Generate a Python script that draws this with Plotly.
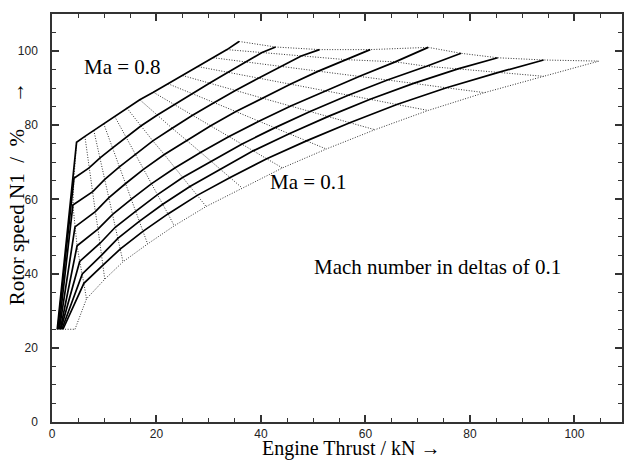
import plotly.graph_objects as go

# Carpet grid: one list per Mach line (solid), nodes = throttle steps (dotted cross lines)
mach_labels = ["0.8", "0.7", "0.6", "0.5", "0.4", "0.3", "0.2", "0.1", "0.0"]

thrust_ma08 = [1.0, 4.7, 6.3, 8.0, 9.9, 12.0, 14.3, 16.8, 19.4, 22.2, 25.0, 28.0, 30.9, 33.5, 35.8]
n1_ma08 = [25, 75.4, 77.0, 78.6, 80.4, 82.4, 84.7, 86.9, 88.9, 91.2, 93.4, 95.8, 98.2, 100.4, 102.6]

thrust_ma07 = [1.1, 4.2, 7.1, 9.2, 11.6, 14.2, 17.0, 20.1, 23.4, 26.8, 30.2, 33.7, 37.1, 40.2, 42.8]
n1_ma07 = [25, 65.7, 68.5, 71.2, 73.9, 76.8, 79.8, 82.7, 85.6, 88.6, 91.4, 94.3, 97.1, 99.6, 101.1]

thrust_ma06 = [1.3, 4.0, 7.8, 10.1, 12.9, 15.9, 19.3, 23.0, 26.9, 31.0, 35.1, 39.5, 43.8, 47.7, 51.2]
n1_ma06 = [25, 58.5, 62.1, 65.4, 68.8, 72.2, 75.8, 79.2, 82.7, 86.1, 89.4, 92.7, 95.9, 98.7, 100.4]

thrust_ma05 = [1.4, 4.4, 8.3, 10.9, 14.1, 17.5, 21.5, 25.8, 30.3, 35.2, 40.3, 45.7, 51.0, 56.2, 60.9]
n1_ma05 = [25, 52.6, 56.7, 60.5, 64.3, 68.1, 72.1, 75.9, 79.8, 83.7, 87.3, 91.1, 94.6, 97.7, 100.4]

thrust_ma04 = [1.6, 4.8, 8.8, 11.6, 15.2, 19.0, 23.5, 28.5, 33.8, 39.6, 45.7, 52.3, 59.0, 65.7, 72.0]
n1_ma04 = [25, 47.5, 52.0, 56.0, 60.1, 64.2, 68.5, 72.7, 76.9, 81.1, 85.2, 89.3, 93.3, 97.1, 101.0]

thrust_ma03 = [1.7, 5.3, 9.2, 12.1, 16.0, 20.2, 25.0, 30.4, 36.3, 42.6, 49.4, 56.7, 64.2, 71.7, 78.3]
n1_ma03 = [25, 43.3, 48.2, 52.5, 56.8, 61.3, 65.9, 70.3, 74.9, 79.3, 83.7, 88.1, 92.2, 95.9, 99.4]

thrust_ma02 = [1.9, 5.8, 9.5, 12.6, 16.7, 21.2, 26.4, 32.2, 38.5, 45.4, 52.9, 60.9, 69.2, 77.7, 85.3]
n1_ma02 = [25, 39.9, 45.0, 49.5, 54.1, 58.7, 63.5, 68.2, 73.1, 77.7, 82.4, 87.0, 91.3, 95.2, 98.2]

thrust_ma01 = [2.1, 6.1, 9.7, 13.1, 17.4, 22.2, 27.8, 34.1, 41.1, 48.7, 57.0, 66.0, 75.5, 85.3, 94.1]
n1_ma01 = [25, 37.4, 42.2, 46.7, 51.4, 56.1, 61.1, 65.9, 71.0, 75.8, 80.7, 85.6, 90.1, 94.2, 97.6]

thrust_ma00 = [4.4, 6.6, 10.1, 13.6, 18.3, 23.4, 29.5, 36.4, 44.1, 52.5, 61.8, 72.0, 82.8, 94.1, 104.7]
n1_ma00 = [25, 33.2, 38.5, 43.2, 48.0, 52.9, 58.1, 63.1, 68.5, 73.6, 78.8, 84.0, 88.8, 93.2, 97.3]

thrust_rows = [thrust_ma08, thrust_ma07, thrust_ma06, thrust_ma05, thrust_ma04,
               thrust_ma03, thrust_ma02, thrust_ma01, thrust_ma00]
n1_rows = [n1_ma08, n1_ma07, n1_ma06, n1_ma05, n1_ma04,
           n1_ma03, n1_ma02, n1_ma01, n1_ma00]

x_ticks = [0, 20, 40, 60, 80, 100]
y_ticks = [0, 20, 40, 60, 80, 100]

fig = go.Figure()

dot_style = dict(color="#333333", width=1, dash="1px,1.6px")
solid_style = dict(color="black", width=1.7)

# dotted cross lines (constant step across Mach lines)
n_cols = len(thrust_ma08)
for j in range(n_cols):
    fig.add_trace(go.Scatter(
        x=[r[j] for r in thrust_rows], y=[r[j] for r in n1_rows],
        mode="lines", line=dot_style, hoverinfo="skip", showlegend=False))

# boundary Mach line dotted
fig.add_trace(go.Scatter(x=thrust_rows[-1], y=n1_rows[-1], mode="lines",
                         line=dot_style, showlegend=False, name="Ma " + mach_labels[-1]))

# solid Mach lines
for k in range(len(thrust_rows) - 1):
    fig.add_trace(go.Scatter(x=thrust_rows[k], y=n1_rows[k], mode="lines",
                             line=solid_style, showlegend=False,
                             name="Ma " + mach_labels[k]))

serif = "Liberation Serif, Times New Roman, serif"
sans = "Liberation Sans, Arial, sans-serif"

axis_common = dict(
    showline=True, linecolor="#333333", linewidth=1.5, mirror="allticks",
    ticks="inside", ticklen=7, tickwidth=1.5, tickcolor="#333333",
    showgrid=False, zeroline=False,
    tickfont=dict(family=sans, size=12, color="#222222"),
    minor=dict(ticks="inside", ticklen=4, tickwidth=1, tickcolor="#333333", dtick=5, showgrid=False),
)

fig.update_xaxes(range=[0, 109.1], tickvals=x_ticks, **axis_common)
fig.update_yaxes(range=[0, 110], tickvals=y_ticks, ticklabelstandoff=10, **axis_common)

fig.add_annotation(x=13.5, y=95.6, text="Ma = 0.8", showarrow=False,
                   font=dict(family=serif, size=21, color="black"))
fig.add_annotation(x=49.1, y=64.8, text="Ma = 0.1", showarrow=False,
                   font=dict(family=serif, size=21, color="black"))
fig.add_annotation(x=73.8, y=41.8, text="Mach number in deltas of 0.1", showarrow=False,
                   font=dict(family=serif, size=21, color="black"))

fig.add_annotation(xref="paper", yref="paper", x=0.526, y=-0.066,
                   xanchor="center", yanchor="middle", borderpad=0,
                   text="Engine Thrust / kN \u2192", showarrow=False,
                   font=dict(family=serif, size=20, color="black"))
fig.add_annotation(xref="paper", yref="paper", x=-0.061, y=0.559, textangle=-90,
                   xanchor="center", yanchor="middle",
                   text="Rotor speed N1 &nbsp;/ &nbsp;% &nbsp; &nbsp; \u2192", showarrow=False,
                   font=dict(family=serif, size=21, color="black"))

fig.update_layout(
    width=625, height=460,
    margin=dict(l=52, r=1, t=14, b=38),
    paper_bgcolor="white", plot_bgcolor="white",
    showlegend=False,
)

fig.write_html("out.html")
